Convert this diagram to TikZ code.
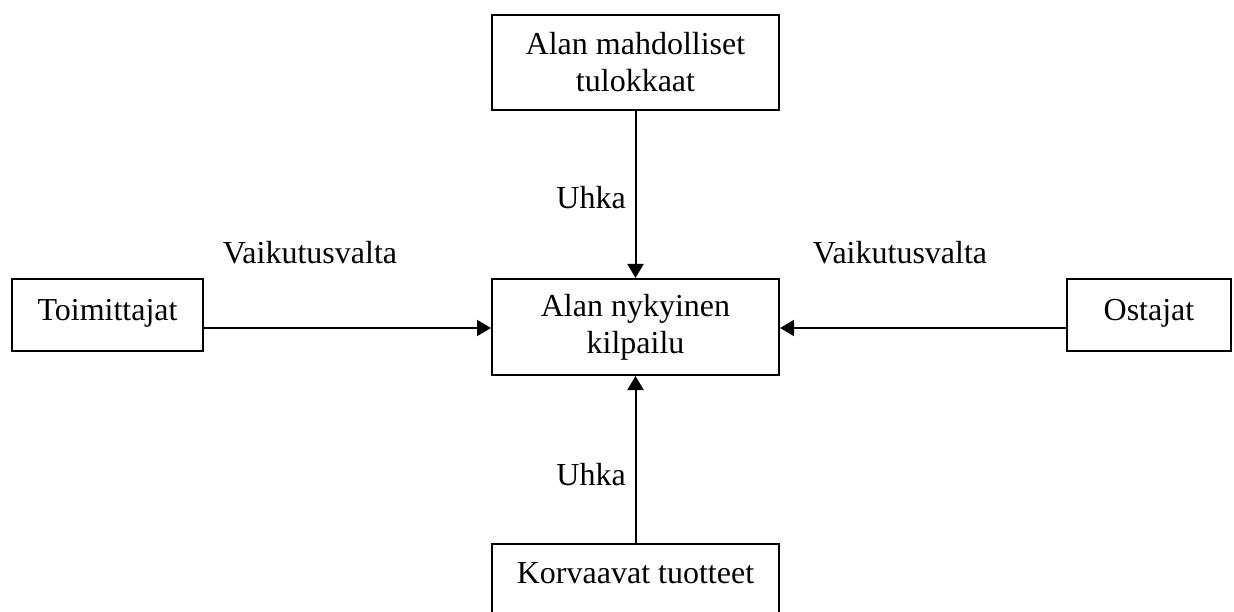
\documentclass[tikz,border=0pt]{standalone}
\usepackage{fontspec}
\setmainfont{Liberation Serif}
\usetikzlibrary{arrows.meta}
\begin{document}
\begin{tikzpicture}[x=1pt,y=-1pt,
  box/.style={draw=black,line width=2pt,inner sep=0pt,align=center,
    font=\fontsize{32}{37}\selectfont},
  single/.style={text height=22pt,text depth=#1},
  lbl/.style={inner sep=0pt,font=\fontsize{32}{37}\selectfont},
  conn/.style={line width=2pt,-{Triangle[length=14pt,width=16pt]}}]
\useasboundingbox (0,0) rectangle (1234,612);
\node[box,minimum width=287pt,minimum height=95pt] (top) at (635.5,62.5) {Alan mahdolliset\\tulokkaat};
\node[box,minimum width=287pt,minimum height=96pt] (mid) at (635.5,327) {Alan nykyinen\\kilpailu};
\node[box,single=16pt,minimum width=287pt,minimum height=72pt] (bot) at (635.5,580) {Korvaavat tuotteet};
\node[box,single=12pt,minimum width=191pt,minimum height=72pt] (toim) at (107.5,315) {Toimittajat};
\node[box,single=12pt,minimum width=164pt,minimum height=71pt] (ost) at (1149,315) {Ostajat};
\draw[conn] (top.south) -- (mid.north);
\draw[conn] (bot.north) -- (mid.south);
\draw[conn] (toim.east |- 0,328) coordinate (te) -- (mid.west |- te);
\draw[conn] (ost.west |- 0,328) coordinate (ow) -- (mid.east |- ow);
\node[lbl,anchor=base east] (u1) at (626,209) {Uhka};
\node[lbl,anchor=base east] (u2) at (626,485) {Uhka};
\node[lbl,anchor=base] (v1) at (310,264) {Vaikutusvalta};
\node[lbl,anchor=base] (v2) at (900,264) {Vaikutusvalta};
\end{tikzpicture}
\end{document}
